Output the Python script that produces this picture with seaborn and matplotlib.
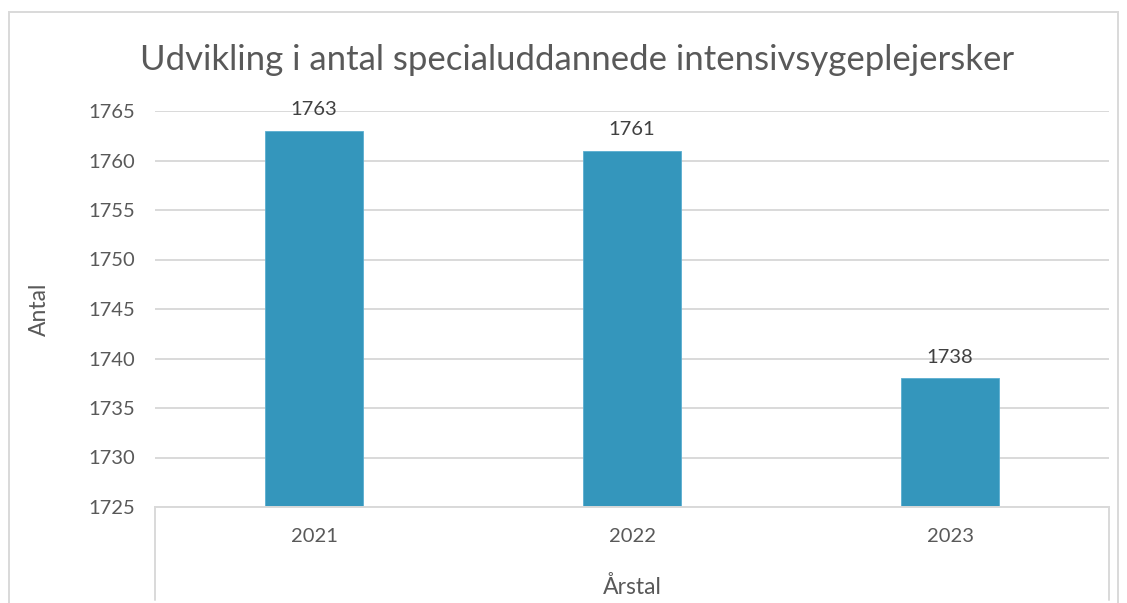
import pandas as pd
import seaborn as sns
import matplotlib.pyplot as plt
from matplotlib.patches import Rectangle

# Data
aar = ["2021", "2022", "2023"]
antal = [1763, 1761, 1738]
yticks = [1725, 1730, 1735, 1740, 1745, 1750, 1755, 1760, 1765]

df = pd.DataFrame({"Årstal": aar, "Antal": antal})

sns.set_theme(style="white")
plt.rcParams['font.family'] = ['Lato', 'DejaVu Sans']

tekst = '#595959'
gitter = '#d9d9d9'

fig = plt.figure(figsize=(11.27, 6.03), dpi=100)
ax = fig.add_axes([155 / 1127, 1 - 507 / 603, 954 / 1127, 396 / 603])

sns.barplot(data=df, x="Årstal", y="Antal", color='#3496bc', saturation=1,
            width=0.31, edgecolor='#5aaed0', linewidth=0.6, ax=ax)

ax.set_ylim(1725, 1765)
ax.set_yticks(yticks)
ax.set_xlim(-0.5, 2.5)
ax.yaxis.grid(True, color=gitter, linewidth=1.4)
ax.set_axisbelow(True)
for s in ['top', 'right', 'left']:
    ax.spines[s].set_visible(False)
ax.spines['bottom'].set_color(gitter)
ax.spines['bottom'].set_linewidth(1.4)
ax.tick_params(axis='both', length=0, labelsize=14.5, labelcolor=tekst, pad=14)
ax.tick_params(axis='x', pad=15)

# data labels
for c in ax.containers:
    ax.bar_label(c, labels=[str(v) for v in antal], padding=9, fontsize=14.5, color='#404040')

ax.set_ylabel("Antal", fontsize=16.5, color=tekst)
ax.set_xlabel("Årstal", fontsize=16.5, color=tekst)
ax.xaxis.set_label_coords(0.5, -0.175)
ax.yaxis.set_label_coords(-0.11, 0.5)

# Excel-style vertical lines below the category axis
for xpos in [0, 1]:
    ax.plot([xpos, xpos], [0, -0.235], transform=ax.transAxes, color=gitter,
            linewidth=1.4, clip_on=False)

fig.text(0.512, 1 - 60 / 603, "Udvikling i antal specialuddannede intensivsygeplejersker",
         ha='center', va='center', fontsize=25, color=tekst)

# outer chart border
fig.patches.append(Rectangle((9 / 1127, -0.01), 1109 / 1127, 1 - 12 / 603 + 0.01,
                             transform=fig.transFigure, fill=False,
                             edgecolor=gitter, linewidth=1.4))

fig.savefig("out.png", dpi=100)
